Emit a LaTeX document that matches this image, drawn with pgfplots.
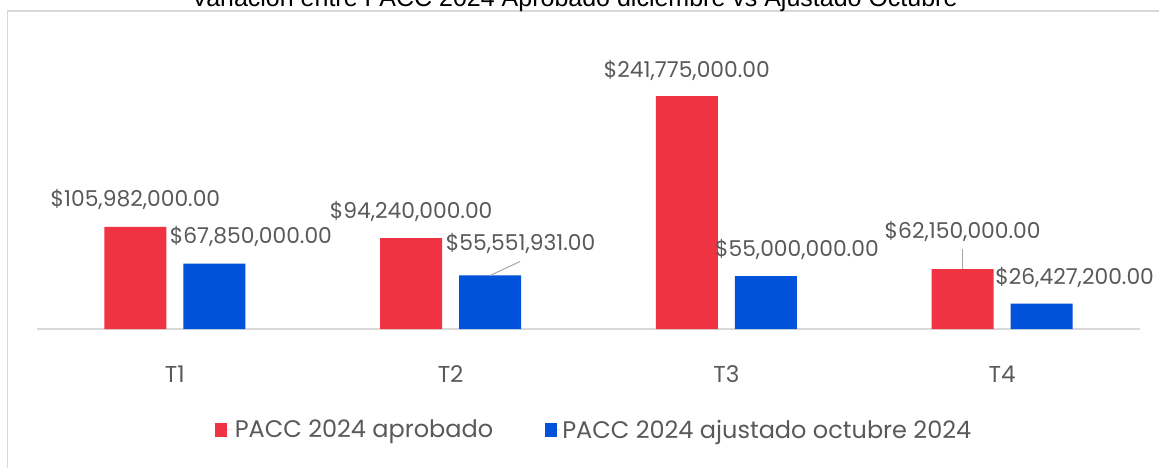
\documentclass[border=0pt]{standalone}
\usepackage{fontspec}
\setmainfont{Poppins}
\newfontfamily\titlefont{Liberation Sans}
\usepackage{pgfplots}
\pgfplotsset{compat=1.18}
\definecolor{cred}{RGB}{239,51,66}
\definecolor{cblue}{RGB}{0,82,219}
\definecolor{ctext}{RGB}{89,89,89}
\definecolor{cgrid}{RGB}{217,217,217}
\definecolor{cline}{RGB}{166,166,166}
\tikzset{lab/.style={font=\fontsize{21.8}{26}\selectfont, text=ctext, inner sep=0pt, anchor=center}}
\begin{document}
\begin{tikzpicture}[x=1pt,y=1pt]
\useasboundingbox (0,0) rectangle (1159,467);
\draw[cgrid, line width=1.5pt] (7.5,-5) -- (7.5,456) -- (1170,456);
\node[anchor=base, inner sep=0pt, font=\titlefont\fontsize{25}{28}\selectfont] at (574.5,460) {Variación entre PACC 2024 Aprobado diciembre vs Ajustado Octubre};
\begin{axis}[
  at={(37pt,138pt)}, anchor=south west,
  scale only axis, width=1103pt, height=289pt,
  xmin=-0.5, xmax=3.5, ymin=0, ymax=300000000,
  ybar=17pt, bar width=62pt,
  axis y line=none, axis x line*=bottom,
  x axis line style={draw=cgrid, line width=1.5pt, -},
  xtick={0,1,2,3}, xticklabels={T1,T2,T3,T4},
  xtick style={draw=none},
  x tick label style={font=\fontsize{23}{26}\selectfont, text=ctext, anchor=center, yshift=-41pt},
  clip=false,
  legend columns=2,
  legend style={at={(0.505,-0.349)}, anchor=center, draw=none, fill=none,
    font=\fontsize{24}{28}\selectfont, text=ctext,
    /tikz/every even column/.append style={column sep=50pt}},
]
\addplot[fill=cred, draw=none,
  legend image code/.code={\fill[cred] (0pt,-7pt) rectangle (12pt,7pt); \path (0,0) -- (18pt,0);}]
  coordinates {(0,105982000) (1,94240000) (2,241775000) (3,62150000)};
\addlegendentry{PACC 2024 aprobado}
\addplot[fill=cblue, draw=none,
  legend image code/.code={\fill[cblue] (0pt,-7pt) rectangle (12pt,7pt); \path (0,0) -- (15pt,0);}]
  coordinates {(0,67850000) (1,55551931) (2,55000000) (3,26427200)};
\addlegendentry{PACC 2024 ajustado octubre 2024}

\node[lab, xshift=-39.5pt, yshift=27pt] at (axis cs:0,105982000) {\$105,982,000.00};
\node[lab, xshift=-39.5pt, yshift=27pt] at (axis cs:1,94240000) {\$94,240,000.00};
\node[lab, xshift=-39.5pt, yshift=26pt] at (axis cs:2,241775000) {\$241,775,000.00};
\node[lab, xshift=-39.5pt, yshift=38pt] at (axis cs:3,62150000) {\$62,150,000.00};
\node[lab, xshift=76pt, yshift=27pt] at (axis cs:0,67850000) {\$67,850,000.00};
\node[lab, xshift=70pt, yshift=32pt] at (axis cs:1,55551931) {\$55,551,931.00};
\node[lab, xshift=70.5pt, yshift=27pt] at (axis cs:2,55000000) {\$55,000,000.00};
\node[lab, xshift=72.5pt, yshift=26pt] at (axis cs:3,26427200) {\$26,427,200.00};
\draw[cline, line width=1pt] ([xshift=39.5pt]axis cs:1,55551931) -- ([xshift=69.5pt,yshift=14pt]axis cs:1,55551931);
\draw[cline, line width=1pt] ([xshift=-39.5pt]axis cs:3,62150000) -- ([xshift=-39.5pt,yshift=20pt]axis cs:3,62150000);
\end{axis}
\end{tikzpicture}
\end{document}
